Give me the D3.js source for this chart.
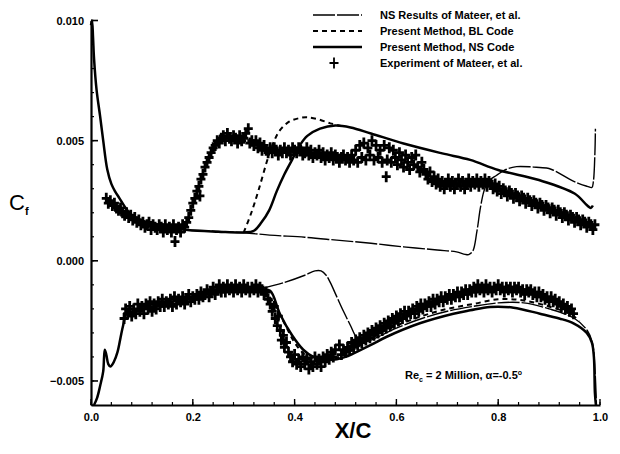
<!DOCTYPE html>
<html>
<head>
<meta charset="utf-8">
<script src="https://cdn.jsdelivr.net/npm/d3@7"></script>
<style>
  body { margin: 0; background: #fff; }
  svg { display: block; }
  text { font-family: "Liberation Sans", Arial, sans-serif; fill: #000; }
</style>
</head>
<body>
<svg id="chart" width="620" height="454"></svg>
<script>
// ---- data (x/c, Cf) ----
const xTicks = [0.0, 0.2, 0.4, 0.6, 0.8, 1.0];
const yTicks = [-0.005, 0.000, 0.005, 0.010];

const legendLabels = [
    "NS Results of Mateer, et al.",
    "Present Method, BL Code",
    "Present Method, NS Code",
    "Experiment of Mateer, et al."
];

// present method, NS code (thick solid)
const nsUpper = [[0,0.0098],[0.002,0.0100],[0.004,0.0093],[0.006,0.0084],[0.011,0.0071],[0.018,0.0060],[0.024,0.0050],[0.032,0.0038],[0.040,0.0032],[0.047,0.0029],[0.056,0.0026],[0.068,0.0022],[0.080,0.0019],[0.100,0.00168],[0.120,0.00155],[0.150,0.00142],[0.190,0.00128],[0.250,0.00121],[0.300,0.00118],[0.320,0.00125],[0.335,0.0016],[0.350,0.0021],[0.365,0.0029],[0.380,0.0036],[0.395,0.0042],[0.410,0.0048],[0.425,0.0052],[0.450,0.0055],[0.480,0.00563],[0.510,0.00555],[0.550,0.0053],[0.614,0.00488],[0.690,0.00447],[0.745,0.0042],[0.800,0.00378],[0.880,0.00336],[0.950,0.0028],[0.975,0.0023],[0.982,0.0022],[0.986,0.0023]];
const nsLower = [[0.006,-0.0060],[0.012,-0.0057],[0.018,-0.0052],[0.024,-0.0046],[0.027,-0.0037],[0.030,-0.0039],[0.034,-0.0043],[0.038,-0.0044],[0.045,-0.0042],[0.052,-0.0038],[0.058,-0.0032],[0.063,-0.0027],[0.070,-0.0022],[0.090,-0.00205],[0.120,-0.0019],[0.180,-0.0016],[0.250,-0.0013],[0.300,-0.00118],[0.335,-0.0012],[0.352,-0.00125],[0.371,-0.0022],[0.395,-0.0031],[0.417,-0.0037],[0.437,-0.0040],[0.460,-0.00412],[0.483,-0.0041],[0.500,-0.0040],[0.515,-0.00386],[0.550,-0.0035],[0.580,-0.00317],[0.646,-0.0026],[0.712,-0.0022],[0.745,-0.00206],[0.784,-0.00192],[0.830,-0.00195],[0.882,-0.0022],[0.920,-0.0024],[0.948,-0.0026],[0.974,-0.0030],[0.984,-0.0034],[0.988,-0.0040],[0.990,-0.0055],[0.992,-0.0060]];

// present method, BL code (dashed)
const blUpper = [[0.300,0.00118],[0.315,0.0020],[0.330,0.0030],[0.348,0.0043],[0.360,0.0050],[0.371,0.00543],[0.390,0.0058],[0.410,0.00594],[0.424,0.00597],[0.445,0.0059],[0.470,0.00572],[0.490,0.00562]];
const blLower = [[0.340,-0.0012],[0.360,-0.0018],[0.380,-0.0026],[0.400,-0.0034],[0.420,-0.0039],[0.440,-0.0041],[0.470,-0.0041],[0.500,-0.0039],[0.530,-0.0035],[0.560,-0.0031],[0.600,-0.0027],[0.650,-0.0023],[0.700,-0.0020],[0.750,-0.0018],[0.800,-0.0016],[0.850,-0.00165],[0.900,-0.0019],[0.940,-0.0022],[0.960,-0.0025]];

// NS results of Mateer et al. (thin)
const mateerUpper = [[0.190,0.00128],[0.300,0.00117],[0.351,0.00107],[0.420,0.00098],[0.483,0.00086],[0.550,0.00073],[0.614,0.00058],[0.680,0.00045],[0.718,0.00037],[0.735,0.00027],[0.742,0.00026],[0.750,0.0004],[0.758,0.0012],[0.765,0.0022],[0.772,0.0029],[0.780,0.0033],[0.797,0.00356],[0.815,0.0038],[0.836,0.00392],[0.870,0.0039],[0.895,0.00386],[0.905,0.0038],[0.915,0.0037],[0.940,0.0034],[0.960,0.0032],[0.975,0.0031],[0.984,0.00305],[0.987,0.0033],[0.990,0.0045],[0.991,0.0055]];
const mateerLower = [[0.335,-0.00115],[0.380,-0.0009],[0.420,-0.0006],[0.440,-0.00042],[0.452,-0.00042],[0.462,-0.0006],[0.470,-0.0009],[0.483,-0.0015],[0.496,-0.0021],[0.510,-0.0027],[0.522,-0.0032],[0.535,-0.0034],[0.550,-0.0033],[0.600,-0.0028],[0.650,-0.0024],[0.700,-0.0021],[0.750,-0.0019],[0.800,-0.00175],[0.850,-0.00175],[0.900,-0.0020],[0.950,-0.0024],[0.975,-0.0029],[0.985,-0.0034],[0.990,-0.0045],[0.993,-0.0060]];

// experiment of Mateer et al. (crosses)
const expUpper = [[0.030,0.0026],[0.034,0.0024],[0.038,0.0025],[0.042,0.0023],[0.046,0.0024],[0.050,0.0022],[0.054,0.0021],[0.058,0.0022],[0.062,0.0020],[0.066,0.0019],[0.070,0.0020],[0.074,0.0018],[0.078,0.0019],[0.082,0.0017],[0.086,0.0018],[0.090,0.0016],[0.094,0.0017],[0.098,0.0015],[0.102,0.0016],[0.106,0.0014],[0.110,0.0015],[0.114,0.0016],[0.118,0.0013],[0.122,0.0015],[0.126,0.0014],[0.130,0.0013],[0.134,0.0015],[0.138,0.0014],[0.142,0.0012],[0.146,0.0015],[0.150,0.0013],[0.154,0.0014],[0.158,0.0012],[0.162,0.0015],[0.165,0.0008],[0.168,0.0013],[0.172,0.0014],[0.176,0.0012],[0.180,0.0015],[0.184,0.0014],[0.188,0.0016],[0.192,0.0018],[0.196,0.0021],[0.200,0.0024],[0.204,0.0026],[0.208,0.0029],[0.212,0.0031],[0.214,0.0027],[0.216,0.0034],[0.220,0.0036],[0.224,0.0039],[0.228,0.0041],[0.232,0.0043],[0.236,0.0045],[0.240,0.0047],[0.244,0.0048],[0.248,0.0050],[0.252,0.0049],[0.256,0.0051],[0.260,0.0052],[0.264,0.0050],[0.268,0.0053],[0.272,0.0051],[0.276,0.0050],[0.280,0.0052],[0.284,0.0051],[0.288,0.0049],[0.292,0.0052],[0.296,0.0050],[0.300,0.0051],[0.304,0.0053],[0.309,0.0055],[0.312,0.0049],[0.316,0.0050],[0.320,0.0048],[0.324,0.0050],[0.328,0.0047],[0.332,0.0049],[0.336,0.0046],[0.340,0.0048],[0.344,0.0046],[0.348,0.0045],[0.352,0.0047],[0.356,0.0045],[0.360,0.0047],[0.364,0.0046],[0.368,0.0044],[0.372,0.0046],[0.376,0.0045],[0.380,0.0047],[0.384,0.0045],[0.388,0.0046],[0.392,0.0044],[0.396,0.0047],[0.400,0.0046],[0.404,0.0045],[0.408,0.0047],[0.412,0.0046],[0.416,0.0044],[0.420,0.0045],[0.424,0.0047],[0.428,0.0044],[0.432,0.0046],[0.436,0.0043],[0.440,0.0045],[0.444,0.0044],[0.448,0.0046],[0.452,0.0043],[0.456,0.0045],[0.460,0.0042],[0.464,0.0044],[0.468,0.0043],[0.472,0.0045],[0.476,0.0042],[0.480,0.0044],[0.484,0.0043],[0.488,0.0041],[0.492,0.0043],[0.496,0.0044],[0.500,0.0042],[0.504,0.0043],[0.508,0.0041],[0.512,0.0044],[0.516,0.0042],[0.520,0.0046],[0.524,0.0041],[0.528,0.0048],[0.532,0.0043],[0.536,0.0049],[0.540,0.0042],[0.544,0.0047],[0.548,0.0044],[0.552,0.0050],[0.556,0.0042],[0.560,0.0048],[0.564,0.0043],[0.568,0.0046],[0.572,0.0041],[0.576,0.0048],[0.580,0.0035],[0.582,0.0042],[0.586,0.0047],[0.590,0.0041],[0.594,0.0046],[0.598,0.0043],[0.602,0.0040],[0.606,0.0045],[0.610,0.0042],[0.614,0.0039],[0.618,0.0044],[0.622,0.0041],[0.626,0.0038],[0.630,0.0043],[0.634,0.0040],[0.638,0.0044],[0.642,0.0039],[0.646,0.0037],[0.650,0.0041],[0.654,0.0038],[0.658,0.0036],[0.662,0.0034],[0.666,0.0037],[0.670,0.0033],[0.674,0.0035],[0.678,0.0032],[0.682,0.0034],[0.686,0.0031],[0.690,0.0033],[0.694,0.0030],[0.698,0.0032],[0.702,0.0034],[0.706,0.0031],[0.710,0.0033],[0.714,0.0030],[0.718,0.0032],[0.722,0.0034],[0.726,0.0031],[0.730,0.0033],[0.734,0.0030],[0.738,0.0032],[0.742,0.0034],[0.746,0.0031],[0.750,0.0033],[0.754,0.0032],[0.758,0.0034],[0.762,0.0031],[0.766,0.0033],[0.770,0.0032],[0.774,0.0034],[0.778,0.0031],[0.782,0.0033],[0.786,0.0032],[0.790,0.0030],[0.794,0.0032],[0.798,0.0029],[0.802,0.0031],[0.806,0.0028],[0.810,0.0030],[0.814,0.0029],[0.818,0.0027],[0.822,0.0029],[0.826,0.0028],[0.830,0.0026],[0.834,0.0028],[0.838,0.0027],[0.842,0.0025],[0.846,0.0027],[0.850,0.0026],[0.854,0.0024],[0.858,0.0026],[0.862,0.0025],[0.866,0.0023],[0.870,0.0025],[0.874,0.0024],[0.878,0.0022],[0.882,0.0024],[0.886,0.0023],[0.890,0.0021],[0.894,0.0023],[0.898,0.0022],[0.902,0.0020],[0.906,0.0022],[0.910,0.0021],[0.914,0.0019],[0.918,0.0021],[0.922,0.0020],[0.926,0.0018],[0.930,0.0020],[0.934,0.0019],[0.938,0.0017],[0.942,0.0019],[0.946,0.0018],[0.950,0.0016],[0.954,0.0018],[0.958,0.0017],[0.962,0.0015],[0.966,0.0017],[0.970,0.0016],[0.974,0.0014],[0.978,0.0016],[0.982,0.0015],[0.986,0.0013],[0.990,0.0015]];
const expLower = [[0.065,-0.0024],[0.068,-0.0020],[0.072,-0.0022],[0.076,-0.0019],[0.080,-0.0023],[0.084,-0.0020],[0.088,-0.0022],[0.092,-0.0018],[0.096,-0.0021],[0.100,-0.0019],[0.104,-0.0022],[0.108,-0.0018],[0.112,-0.0020],[0.116,-0.0017],[0.120,-0.0021],[0.124,-0.0018],[0.128,-0.0020],[0.132,-0.0017],[0.136,-0.0019],[0.140,-0.0016],[0.144,-0.0019],[0.148,-0.0017],[0.152,-0.0018],[0.156,-0.0016],[0.160,-0.0019],[0.164,-0.0015],[0.168,-0.0018],[0.172,-0.0016],[0.176,-0.0017],[0.180,-0.0015],[0.184,-0.0018],[0.188,-0.0016],[0.192,-0.0014],[0.196,-0.0017],[0.200,-0.0015],[0.204,-0.0016],[0.208,-0.0014],[0.212,-0.0016],[0.216,-0.0013],[0.220,-0.0015],[0.224,-0.0014],[0.228,-0.0012],[0.232,-0.0015],[0.236,-0.0013],[0.240,-0.0011],[0.244,-0.0014],[0.248,-0.0012],[0.252,-0.0010],[0.256,-0.0013],[0.260,-0.0011],[0.264,-0.0013],[0.268,-0.0010],[0.272,-0.0012],[0.276,-0.0011],[0.280,-0.0013],[0.284,-0.0010],[0.288,-0.0012],[0.292,-0.0011],[0.296,-0.0013],[0.300,-0.0010],[0.304,-0.0012],[0.308,-0.0011],[0.312,-0.0013],[0.316,-0.0011],[0.320,-0.0012],[0.324,-0.0010],[0.328,-0.0013],[0.332,-0.0011],[0.336,-0.0012],[0.340,-0.0014],[0.344,-0.0013],[0.348,-0.0016],[0.352,-0.0018],[0.356,-0.0021],[0.360,-0.0019],[0.362,-0.0024],[0.366,-0.0027],[0.368,-0.0023],[0.372,-0.0029],[0.374,-0.0033],[0.378,-0.0031],[0.380,-0.0036],[0.384,-0.0034],[0.388,-0.0038],[0.392,-0.0040],[0.396,-0.0042],[0.400,-0.0039],[0.404,-0.0043],[0.408,-0.0041],[0.412,-0.0044],[0.416,-0.0040],[0.420,-0.0043],[0.424,-0.0041],[0.428,-0.0045],[0.432,-0.0042],[0.436,-0.0044],[0.440,-0.0040],[0.444,-0.0043],[0.448,-0.0041],[0.452,-0.0044],[0.456,-0.0040],[0.460,-0.0042],[0.464,-0.0039],[0.468,-0.0041],[0.472,-0.0038],[0.476,-0.0040],[0.480,-0.0037],[0.488,-0.0035],[0.492,-0.0039],[0.496,-0.0037],[0.500,-0.0038],[0.504,-0.0036],[0.508,-0.0037],[0.512,-0.0034],[0.516,-0.0036],[0.520,-0.0033],[0.524,-0.0035],[0.528,-0.0032],[0.532,-0.0034],[0.536,-0.0031],[0.540,-0.0033],[0.544,-0.0030],[0.548,-0.0032],[0.552,-0.0029],[0.556,-0.0031],[0.560,-0.0028],[0.564,-0.0030],[0.568,-0.0027],[0.572,-0.0029],[0.576,-0.0026],[0.580,-0.0028],[0.584,-0.0025],[0.588,-0.0027],[0.592,-0.0024],[0.596,-0.0026],[0.600,-0.0023],[0.604,-0.0025],[0.608,-0.0022],[0.612,-0.0024],[0.616,-0.0021],[0.620,-0.0023],[0.624,-0.0021],[0.628,-0.0022],[0.632,-0.0020],[0.636,-0.0022],[0.640,-0.0019],[0.644,-0.0021],[0.648,-0.0018],[0.652,-0.0020],[0.656,-0.0018],[0.660,-0.0019],[0.664,-0.0017],[0.668,-0.0019],[0.672,-0.0016],[0.676,-0.0018],[0.680,-0.0016],[0.684,-0.0017],[0.688,-0.0015],[0.692,-0.0017],[0.696,-0.0015],[0.700,-0.0016],[0.704,-0.0014],[0.708,-0.0016],[0.712,-0.0014],[0.716,-0.0015],[0.720,-0.0013],[0.724,-0.0015],[0.728,-0.0013],[0.732,-0.0014],[0.736,-0.0012],[0.740,-0.0014],[0.744,-0.0012],[0.748,-0.0013],[0.752,-0.0011],[0.756,-0.0013],[0.760,-0.0010],[0.764,-0.0012],[0.768,-0.0011],[0.772,-0.0013],[0.776,-0.0010],[0.780,-0.0012],[0.784,-0.0011],[0.788,-0.0013],[0.792,-0.0011],[0.796,-0.0012],[0.800,-0.0010],[0.804,-0.0012],[0.808,-0.0011],[0.812,-0.0013],[0.816,-0.0011],[0.820,-0.0012],[0.824,-0.0011],[0.828,-0.0013],[0.832,-0.0011],[0.836,-0.0012],[0.840,-0.0011],[0.844,-0.0013],[0.848,-0.0012],[0.852,-0.0014],[0.856,-0.0012],[0.860,-0.0013],[0.864,-0.0012],[0.868,-0.0014],[0.872,-0.0013],[0.876,-0.0015],[0.880,-0.0013],[0.884,-0.0015],[0.888,-0.0014],[0.892,-0.0016],[0.896,-0.0015],[0.900,-0.0017],[0.904,-0.0015],[0.908,-0.0017],[0.912,-0.0016],[0.916,-0.0018],[0.920,-0.0017],[0.924,-0.0019],[0.928,-0.0018],[0.932,-0.0020],[0.936,-0.0019],[0.940,-0.0021],[0.944,-0.0020],[0.948,-0.0022]];

// ---- layout ----
const svg = d3.select("#chart");
const plotLeft = 91, plotRight = 600, plotTop = 20.5, plotBottom = 405;

const x = d3.scaleLinear().domain([0, 1]).range([plotLeft, plotRight]);
const y = d3.scaleLinear().domain([-0.006, 0.010]).range([plotBottom, plotTop]);

const line = d3.line()
    .x(d => x(d[0]))
    .y(d => y(d[1]))
    .curve(d3.curveCatmullRom.alpha(0.5));

const cross = "M-4.5,0H4.5M0,-5.5V5.5";

// experiment crosses
const g = svg.append("g");
g.selectAll("path.exp")
    .data(expUpper.concat(expLower))
    .enter().append("path")
    .attr("class", "exp")
    .attr("d", cross)
    .attr("transform", d => `translate(${x(d[0])},${y(d[1])})`)
    .attr("stroke", "#000")
    .attr("stroke-width", 2.8)
    .attr("fill", "none");

// curves
const styles = {
    mateer: { width: 1.4, dash: "22,2" },
    bl: { width: 2, dash: "5,4" },
    ns: { width: 2.5, dash: null }
};

function drawCurve(data, style) {
    g.append("path")
        .datum(data)
        .attr("d", line)
        .attr("fill", "none")
        .attr("stroke", "#000")
        .attr("stroke-width", style.width)
        .attr("stroke-dasharray", style.dash)
        .attr("stroke-linejoin", "round");
}

drawCurve(mateerUpper, styles.mateer);
drawCurve(mateerLower, styles.mateer);
drawCurve(blUpper, styles.bl);
drawCurve(blLower, styles.bl);
drawCurve(nsUpper, styles.ns);
drawCurve(nsLower, styles.ns);

// ---- axes ----
const xAxis = d3.axisBottom(x)
    .tickValues(xTicks)
    .tickSize(0)
    .tickPadding(8)
    .tickFormat(d3.format(".1f"));

const yAxis = d3.axisLeft(y)
    .tickValues(yTicks)
    .tickSize(0)
    .tickPadding(7)
    .tickFormat(d3.format(".3f"));

const gx = svg.append("g").attr("transform", `translate(0,${plotBottom})`).call(xAxis);
const gy = svg.append("g").attr("transform", `translate(${plotLeft},0)`).call(yAxis);

[gx, gy].forEach(a => {
    a.select(".domain").attr("stroke", "#000").attr("stroke-width", 2.2);
    a.selectAll("text")
        .style("font-family", "'Liberation Sans', Arial, sans-serif")
        .style("font-size", "11px")
        .style("font-weight", "bold")
        .attr("fill", "#000");
});

// inward ticks (major + minor)
const xMinor = d3.range(0, 1.0001, 0.04);
const yMinor = d3.range(-0.006, 0.01001, 0.001);

svg.append("g").selectAll("line")
    .data(xMinor)
    .enter().append("line")
    .attr("x1", d => x(d)).attr("x2", d => x(d))
    .attr("y1", plotBottom).attr("y2", plotBottom - 3)
    .attr("stroke", "#000").attr("stroke-width", 1.2);
svg.append("g").selectAll("line")
    .data(xTicks)
    .enter().append("line")
    .attr("x1", d => x(d)).attr("x2", d => x(d))
    .attr("y1", plotBottom).attr("y2", plotBottom - 6)
    .attr("stroke", "#000").attr("stroke-width", 1.4);
svg.append("g").selectAll("line")
    .data(yMinor)
    .enter().append("line")
    .attr("x1", plotLeft).attr("x2", plotLeft + 3)
    .attr("y1", d => y(d)).attr("y2", d => y(d))
    .attr("stroke", "#000").attr("stroke-width", 1.2);
svg.append("g").selectAll("line")
    .data(yTicks)
    .enter().append("line")
    .attr("x1", plotLeft).attr("x2", plotLeft + 7)
    .attr("y1", d => y(d)).attr("y2", d => y(d))
    .attr("stroke", "#000").attr("stroke-width", 1.6);

// axis titles
svg.append("text")
    .attr("x", 353).attr("y", 438)
    .attr("text-anchor", "middle")
    .style("font-size", "22px")
    .style("font-weight", "bold")
    .text("X/C");

const cf = svg.append("text")
    .attr("x", 9).attr("y", 210)
    .style("font-size", "22px");
cf.append("tspan").text("C");
cf.append("tspan").attr("dy", 5).style("font-size", "11px").style("font-weight", "bold").text("f");

// annotation
const note = svg.append("text")
    .attr("x", 405).attr("y", 379)
    .style("font-size", "11px")
    .style("font-weight", "bold");
note.append("tspan").text("Re");
note.append("tspan").attr("dy", 3).style("font-size", "7px").text("c");
note.append("tspan").attr("dy", -3).text(" = 2 Million, \u03b1=-0.5");
note.append("tspan").attr("dy", -4).style("font-size", "7px").text("o");

// ---- legend ----
const legendY = [15, 31, 47, 63];
const legend = svg.append("g");
const legendStyles = [styles.mateer, styles.bl, styles.ns, null];

legendLabels.forEach((label, i) => {
    const st = legendStyles[i];
    if (st) {
        legend.append("line")
            .attr("x1", 313).attr("x2", 362)
            .attr("y1", legendY[i]).attr("y2", legendY[i])
            .attr("stroke", "#000")
            .attr("stroke-width", st.width)
            .attr("stroke-dasharray", st.dash);
    } else {
        legend.append("path")
            .attr("d", cross)
            .attr("transform", `translate(334,${legendY[i]})`)
            .attr("stroke", "#000").attr("stroke-width", 1.8);
    }
    legend.append("text")
        .attr("x", 380).attr("y", legendY[i] + 4)
        .style("font-size", "11px")
        .style("font-weight", "bold")
        .text(label);
});
</script>
</body>
</html>
